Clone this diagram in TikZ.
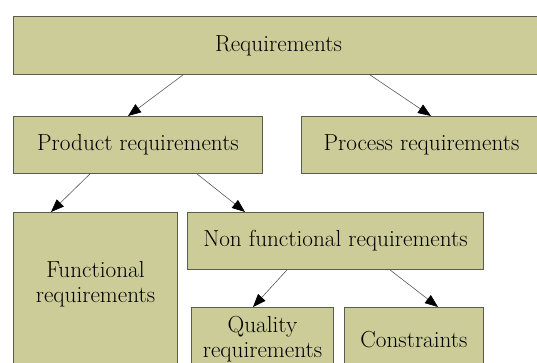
\documentclass[tikz,border=0pt]{standalone}
\usetikzlibrary{arrows.meta,calc}
\definecolor{BoxClr}{rgb}{0.8,0.8,0.6}
\definecolor{EdgeClr}{rgb}{0.36,0.36,0.3}

\begin{document}
\begin{tikzpicture}[x=1pt,y=-1pt,
  box/.style={draw=EdgeClr,line width=0.9pt,fill=BoxClr,anchor=north west,
    inner sep=0pt,align=center,text=black,font=\fontsize{23.2}{25}\selectfont},
  conn/.style={draw=black!65,line width=0.6pt,-{Triangle[length=13pt,width=10pt,black]}}]
\useasboundingbox (0,0) rectangle (537,363);
\clip (0,0) rectangle (537,363);

\node[box,minimum width=530pt,minimum height=58pt] (req) at (13,16) {Requirements};
\node[box,minimum width=249pt,minimum height=57pt] (prod) at (13,116) {Product requirements};
\node[box,minimum width=240pt,minimum height=57pt] (proc) at (301,116) {Process requirements};
\node[box,minimum width=164pt,minimum height=156pt,text depth=18pt] (func) at (13,212) {Functional\\requirements};
\node[box,minimum width=296pt,minimum height=57pt] (nonf) at (187,212) {Non functional requirements};
\node[box,minimum width=142pt,minimum height=64pt] (qual) at (191,307) {Quality\\requirements};
\node[box,minimum width=139pt,minimum height=64pt] (cons) at (344,307) {Constraints};

\draw[conn] ([xshift=170pt]req.south west) -- ([xshift=115pt]prod.north west);
\draw[conn] ([xshift=357pt]req.south west) -- ([xshift=130pt]proc.north west);
\draw[conn] ([xshift=77pt]prod.south west) -- ([xshift=38pt]func.north west);
\draw[conn] ([xshift=184pt]prod.south west) -- ([xshift=58pt]nonf.north west);
\draw[conn] ([xshift=100pt]nonf.south west) -- ([xshift=62pt]qual.north west);
\draw[conn] ([xshift=203pt]nonf.south west) -- ([xshift=94pt]cons.north west);

\end{tikzpicture}
\end{document}
